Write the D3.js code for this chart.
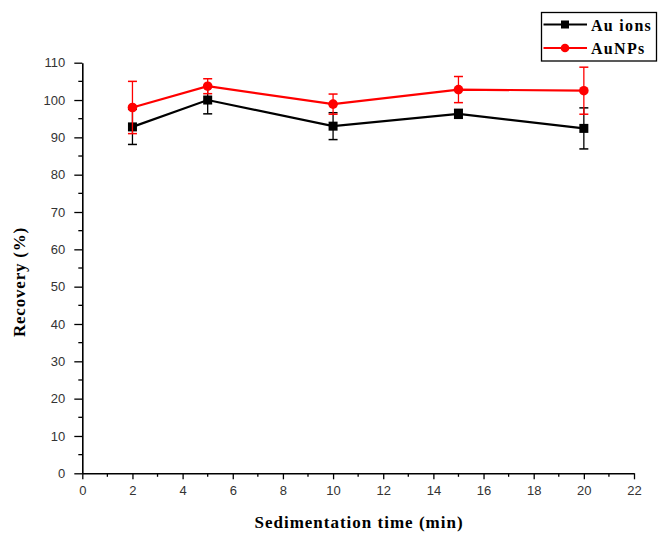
<!DOCTYPE html>
<html><head><meta charset="utf-8">
<script src="https://cdn.jsdelivr.net/npm/d3@7"></script>
<style>body{margin:0;background:#fff}svg{display:block}</style>
</head><body>
<svg id="c" width="658" height="534"></svg>
<script>
const times = [2, 5, 10, 15, 20];
const auIons = [92.8, 100, 93.0, 96.3, 92.4];
const auIonsErr = [4.7, 3.7, 3.6, 1.2, 5.5];
const auNPs = [98.0, 103.7, 98.9, 102.8, 102.5];
const auNPsErr = [7.0, 2.0, 2.7, 3.5, 6.3];
const xTicks = [0, 2, 4, 6, 8, 10, 12, 14, 16, 18, 20, 22];
const yTicks = [0, 10, 20, 30, 40, 50, 60, 70, 80, 90, 100, 110];
const seriesNames = ["Au ions", "AuNPs"];

const svg = d3.select("#c");
const x = d3.scaleLinear().domain([0, 22]).range([82.3, 634]);
const y = d3.scaleLinear().domain([0, 110]).range([473.3, 62.7]);

// minor ticks
const g = svg.append("g");
const xMinor = d3.range(1, 22, 2);
g.selectAll(".xm").data(xMinor).enter().append("line")
  .attr("x1", d => x(d)).attr("x2", d => x(d)).attr("y1", y(0)).attr("y2", y(0) + 3.5)
  .attr("stroke", "#000").attr("stroke-width", 1.3);
const yMinor = d3.range(5, 110, 10);
g.selectAll(".ym").data(yMinor).enter().append("line")
  .attr("x1", x(0) - 4).attr("x2", x(0)).attr("y1", d => y(d)).attr("y2", d => y(d))
  .attr("stroke", "#000").attr("stroke-width", 1.3);

const xAxis = svg.append("g").attr("transform", `translate(0,${y(0)})`)
  .call(d3.axisBottom(x).tickValues(xTicks).tickSize(6).tickPadding(6).tickSizeOuter(0));
const yAxis = svg.append("g").attr("transform", `translate(${x(0)},0)`)
  .call(d3.axisLeft(y).tickValues(yTicks).tickSize(8).tickPadding(9).tickSizeOuter(0));
[xAxis, yAxis].forEach(a => {
  a.select(".domain").attr("stroke", "#000").attr("stroke-width", 1.6);
  a.selectAll(".tick line").attr("stroke", "#000").attr("stroke-width", 1.3);
  a.selectAll(".tick text").attr("font-family", "Liberation Sans, Arial, sans-serif")
    .attr("font-size", 13).attr("fill", "#333");
});

svg.append("text").attr("x", 359).attr("y", 528).attr("text-anchor", "middle")
  .attr("font-family", "Liberation Serif, Times New Roman, serif").attr("font-weight", "bold")
  .attr("font-size", 17).attr("letter-spacing", 1).text("Sedimentation time (min)");
svg.append("text").attr("transform", "translate(25,282) rotate(-90)").attr("text-anchor", "middle")
  .attr("font-family", "Liberation Serif, Times New Roman, serif").attr("font-weight", "bold")
  .attr("font-size", 17).attr("letter-spacing", 0.8).text("Recovery (%)");

const series = [
  {name: seriesNames[0], vals: auIons, err: auIonsErr, color: "#000", shape: "square"},
  {name: seriesNames[1], vals: auNPs, err: auNPsErr, color: "#ff0000", shape: "circle"}
];
const line = d3.line().x(d => x(d[0])).y(d => y(d[1]));
series.forEach(s => {
  const pts = times.map((t, i) => [t, s.vals[i], s.err[i]]);
  const eg = svg.append("g");
  pts.forEach(p => {
    eg.append("line").attr("x1", x(p[0])).attr("x2", x(p[0]))
      .attr("y1", y(p[1] - p[2])).attr("y2", y(p[1] + p[2])).attr("stroke", s.color).attr("stroke-width", 1.3);
    [p[1] - p[2], p[1] + p[2]].forEach(v => eg.append("line")
      .attr("x1", x(p[0]) - 4.5).attr("x2", x(p[0]) + 4.5).attr("y1", y(v)).attr("y2", y(v))
      .attr("stroke", s.color).attr("stroke-width", 1.5));
  });
  svg.append("path").datum(pts).attr("d", line).attr("fill", "none")
    .attr("stroke", s.color).attr("stroke-width", 2.2);
  pts.forEach(p => {
    if (s.shape === "square") svg.append("rect").attr("x", x(p[0]) - 4.5).attr("y", y(p[1]) - 4.5)
      .attr("width", 9).attr("height", 9).attr("fill", s.color);
    else svg.append("circle").attr("cx", x(p[0])).attr("cy", y(p[1])).attr("r", 4.8).attr("fill", s.color);
  });
});

// legend
const lg = svg.append("g");
lg.append("rect").attr("x", 541.5).attr("y", 12.5).attr("width", 115).attr("height", 48.5)
  .attr("fill", "#fff").attr("stroke", "#000").attr("stroke-width", 1.3);
series.forEach((s, i) => {
  const ly = 24.5 + i * 23.5;
  lg.append("line").attr("x1", 543.5).attr("x2", 587).attr("y1", ly).attr("y2", ly)
    .attr("stroke", s.color).attr("stroke-width", 2.2);
  if (s.shape === "square") lg.append("rect").attr("x", 565 - 4).attr("y", ly - 4).attr("width", 8).attr("height", 8).attr("fill", s.color);
  else lg.append("circle").attr("cx", 565).attr("cy", ly).attr("r", 4.3).attr("fill", s.color);
  lg.append("text").attr("x", 591).attr("y", ly + 6)
    .attr("font-family", "Liberation Serif, Times New Roman, serif").attr("font-weight", "bold")
    .attr("font-size", 16).attr("letter-spacing", 1.3).text(s.name);
});
</script>
</body></html>
